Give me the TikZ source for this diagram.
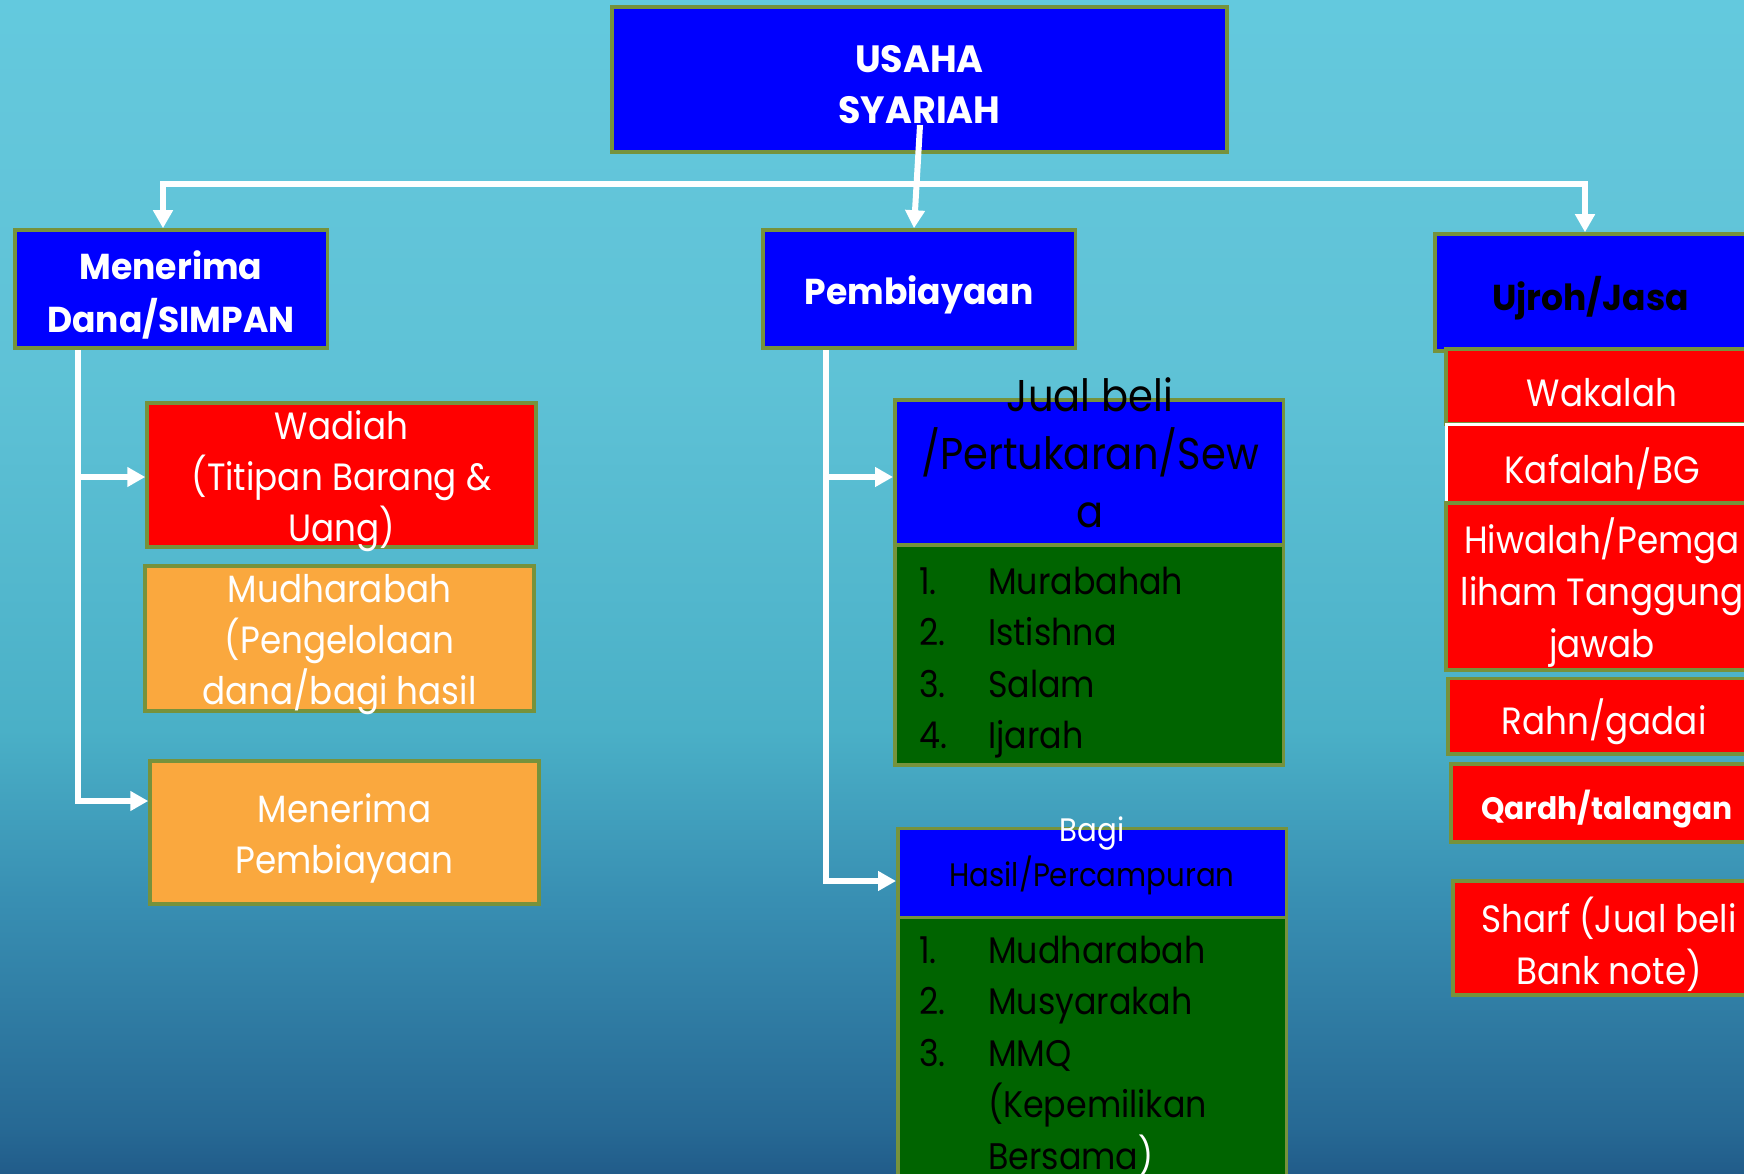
\documentclass[tikz,border=0pt]{standalone}
\usepackage{fontspec}
\setmainfont{Poppins}[FakeStretch=0.9]
\newfontfamily\bfnt{Poppins}[FakeStretch=0.96]
\usetikzlibrary{arrows.meta}
\definecolor{bxblue}{RGB}{0,0,255}
\definecolor{bxred}{RGB}{255,0,0}
\definecolor{bxorange}{RGB}{250,168,62}
\definecolor{bxgreen}{RGB}{0,100,0}
\definecolor{bxedge}{RGB}{118,146,60}
\pgfdeclareverticalshading{bgsh}{100bp}{rgb(0bp)=(0.13,0.36,0.54); rgb(25bp)=(0.13,0.36,0.54); rgb(26.9bp)=(0.15,0.41,0.58); rgb(36.7bp)=(0.22,0.56,0.70); rgb(43.9bp)=(0.29,0.69,0.78); rgb(58.8bp)=(0.37,0.76,0.84); rgb(71.2bp)=(0.39,0.78,0.86); rgb(75bp)=(0.39,0.79,0.87); rgb(100bp)=(0.39,0.79,0.87)}
\newcommand\itm[1]{\makebox[69pt][l]{#1}}
\tikzset{
  box/.style={draw=bxedge, line width=3.5pt, inner sep=0pt},
  tl/.style={align=center, inner sep=0pt, text=white, yshift=-6pt},
  regtext/.style={font=\fontsize{38}{51}\selectfont},
  rtext/.style={font=\fontsize{38}{52}\selectfont},
  bldtext/.style={font=\bfnt\bfseries\fontsize{36}{53}\selectfont},
  conn/.style={draw=white, line width=6pt},
  arr/.style={conn, -{Triangle[length=18pt,width=19pt]}},
  dblarr/.style={conn, {Triangle[length=18pt,width=19pt]}-{Triangle[length=18pt,width=19pt]}}
}
\begin{document}
\begin{tikzpicture}[x=1pt,y=-1pt]
\useasboundingbox (0,0) rectangle (1744,1174);
\clip (0,0) rectangle (1744,1174);
\shade[shading=bgsh] (0,0) rectangle (1744,1174);

% top
\node[box, fill=bxblue, minimum width=615, minimum height=145,
  label={[tl, yshift=1pt, font=\bfnt\bfseries\fontsize{38}{51}\selectfont]center:{USAHA\\SYARIAH}}] (top) at (919.5,79.5) {};

% second level
\node[box, fill=bxblue, minimum width=312.5, minimum height=118,
  label={[tl, bldtext]center:{Menerima\\Dana/SIMPAN}}] (ld) at (171,289) {};
\node[box, fill=bxblue, minimum width=312.5, minimum height=118,
  label={[tl, bldtext]center:{Pembiayaan}}] (pb) at (919,289) {};
\node[box, fill=bxblue, minimum width=311, minimum height=117,
  label={[tl, bldtext, text=black]center:{Ujroh/Jasa}}] (uj) at (1590.5,292.5) {};

% left column
\node[box, fill=bxred, minimum width=389, minimum height=144,
  label={[tl, regtext]center:{Wadiah\\(Titipan Barang \&\\Uang)}}] (wd) at (341.5,475) {};
\node[box, fill=bxorange, minimum width=389, minimum height=145,
  label={[tl, regtext]center:{Mudharabah\\(Pengelolaan\\dana/bagi hasil}}] (md) at (339.5,638.5) {};
\node[box, fill=bxorange, minimum width=389, minimum height=143,
  label={[tl, regtext]center:{Menerima\\Pembiayaan}}] (mp) at (344.5,832.5) {};

% middle column
\node[box, fill=bxblue, minimum width=388.5, minimum height=145] (jb) at (1089,472.5) {};
\node[box, fill=bxgreen, minimum width=388.5, minimum height=220] (g1) at (1089,655) {};
\node[text=black, align=center, inner sep=0pt, font=\fontsize{44.5}{58}\selectfont] (jbt) at (1090,453) {Jual beli\\/Pertukaran/Sew\\a};
\node[anchor=west, text=black, align=left, inner sep=0pt, font=\fontsize{37}{51.5}\selectfont] (l1) at (919,662.5) {\itm{1.}Murabahah\\\itm{2.}Istishna\\\itm{3.}Salam\\\itm{4.}Ijarah};

\node[box, fill=bxblue, minimum width=388.5, minimum height=89] (bh) at (1092,873) {};
\node[box, fill=bxgreen, minimum width=388.5, minimum height=272.5] (g2) at (1092,1053.75) {};
\node[text=black, align=center, inner sep=0pt, font=\fontsize{32.5}{45}\selectfont] (bht) at (1092,855.5) {\textcolor{white}{Bagi}\\Hasil/Percampuran};
\node[anchor=west, text=black, align=left, inner sep=0pt, font=\fontsize{37}{51.5}\selectfont] (l2) at (919,1056) {\itm{1.}Mudharabah\\\itm{2.}Musyarakah\\\itm{3.}MMQ\\\itm{}(Kepemilikan\\\itm{}Bersama\textcolor{white}{)}};

% right column
\node[box, fill=bxred, minimum width=312, minimum height=75,
  label={[tl, rtext]center:{Wakalah}}] (wk) at (1602,386.5) {};
\node[box, draw=white, line width=3pt, fill=bxred, minimum width=312, minimum height=78,
  label={[tl, rtext]center:{Kafalah/BG}}] (kf) at (1602,463) {};
\node[box, fill=bxred, minimum width=312, minimum height=167,
  label={[tl, rtext]center:{Hiwalah/Pemga\\liham Tanggung\\jawab}}] (hw) at (1602,586.5) {};
\node[box, fill=bxred, minimum width=312, minimum height=75.5,
  label={[tl, rtext]center:{Rahn/gadai}}] (rh) at (1604,716) {};
\node[box, fill=bxred, minimum width=312, minimum height=78,
  label={[tl, font=\bfnt\bfseries\fontsize{31}{45}\selectfont]center:{Qardh/talangan}}] (qd) at (1607,803) {};
\node[box, fill=bxred, minimum width=312, minimum height=114,
  label={[tl, rtext]center:{Sharf (Jual beli\\Bank note)}}] (sh) at (1609,938) {};

% connectors
\coordinate (hl) at (163,184);
\coordinate (hr) at (1585,184);
\draw[dblarr] (hl |- ld.north) -- (hl) -- (hr) -- (hr |- uj.north);
\coordinate (ms) at (920,125);
\draw[arr] (ms) -- ([xshift=-5pt]pb.north);

\coordinate (lb1) at (78,477);
\coordinate (lb2) at (78,801);
\draw[arr] (ld.south -| lb2) -- (lb2) -- (mp.west |- lb2);
\draw[arr] (lb1) -- (wd.west |- lb1);

\coordinate (mb1) at (826,477);
\coordinate (mb2) at (826,881);
\draw[arr] (pb.south -| mb2) -- (mb2) -- (bh.west |- mb2);
\draw[arr] (mb1) -- (jb.west |- mb1);
\end{tikzpicture}
\end{document}
